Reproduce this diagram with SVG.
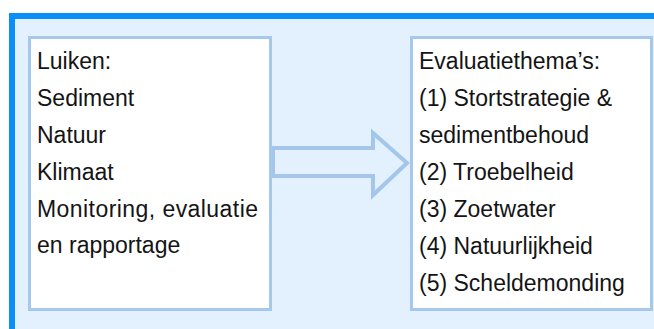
<svg xmlns="http://www.w3.org/2000/svg" width="654" height="329" viewBox="0 0 654 329">
<style>
.box{fill:#ffffff;stroke:#a6c8ec;stroke-width:3}
.t{font-family:"Liberation Sans",Arial,sans-serif;font-size:23px;fill:#141414}
</style>
<rect x="0" y="0" width="654" height="329" fill="#ffffff"/>
<g id="frame">
<rect x="12" y="16" width="670" height="340" fill="#e3f0fe" stroke="#0a8ef8" stroke-width="6"/>
</g>
<g id="connectors">
<path d="M273,148 L373,148 L373,133 L407,163 L373,195 L373,176 L273,176 Z" fill="#e3f0fe" stroke="#a3c6ea" stroke-width="4" stroke-linejoin="miter"/>
</g>
<g id="luiken">
<rect class="box" x="29.5" y="37.5" width="241" height="272"/>
<text class="t" x="37" y="69">Luiken:</text>
<text class="t" x="37" y="106">Sediment</text>
<text class="t" x="37" y="143">Natuur</text>
<text class="t" x="37" y="180">Klimaat</text>
<text class="t" x="37" y="217" textLength="221">Monitoring, evaluatie</text>
<text class="t" x="37" y="253">en rapportage</text>
</g>
<g id="thema">
<rect class="box" x="411.5" y="37.5" width="240" height="272"/>
<text class="t" x="419" y="69">Evaluatiethema’s:</text>
<text class="t" x="419" y="106">(1) Stortstrategie &amp;</text>
<text class="t" x="419" y="143">sedimentbehoud</text>
<text class="t" x="419" y="180">(2) Troebelheid</text>
<text class="t" x="419" y="217">(3) Zoetwater</text>
<text class="t" x="419" y="254">(4) Natuurlijkheid</text>
<text class="t" x="419" y="291">(5) Scheldemonding</text>
</g>
</svg>
